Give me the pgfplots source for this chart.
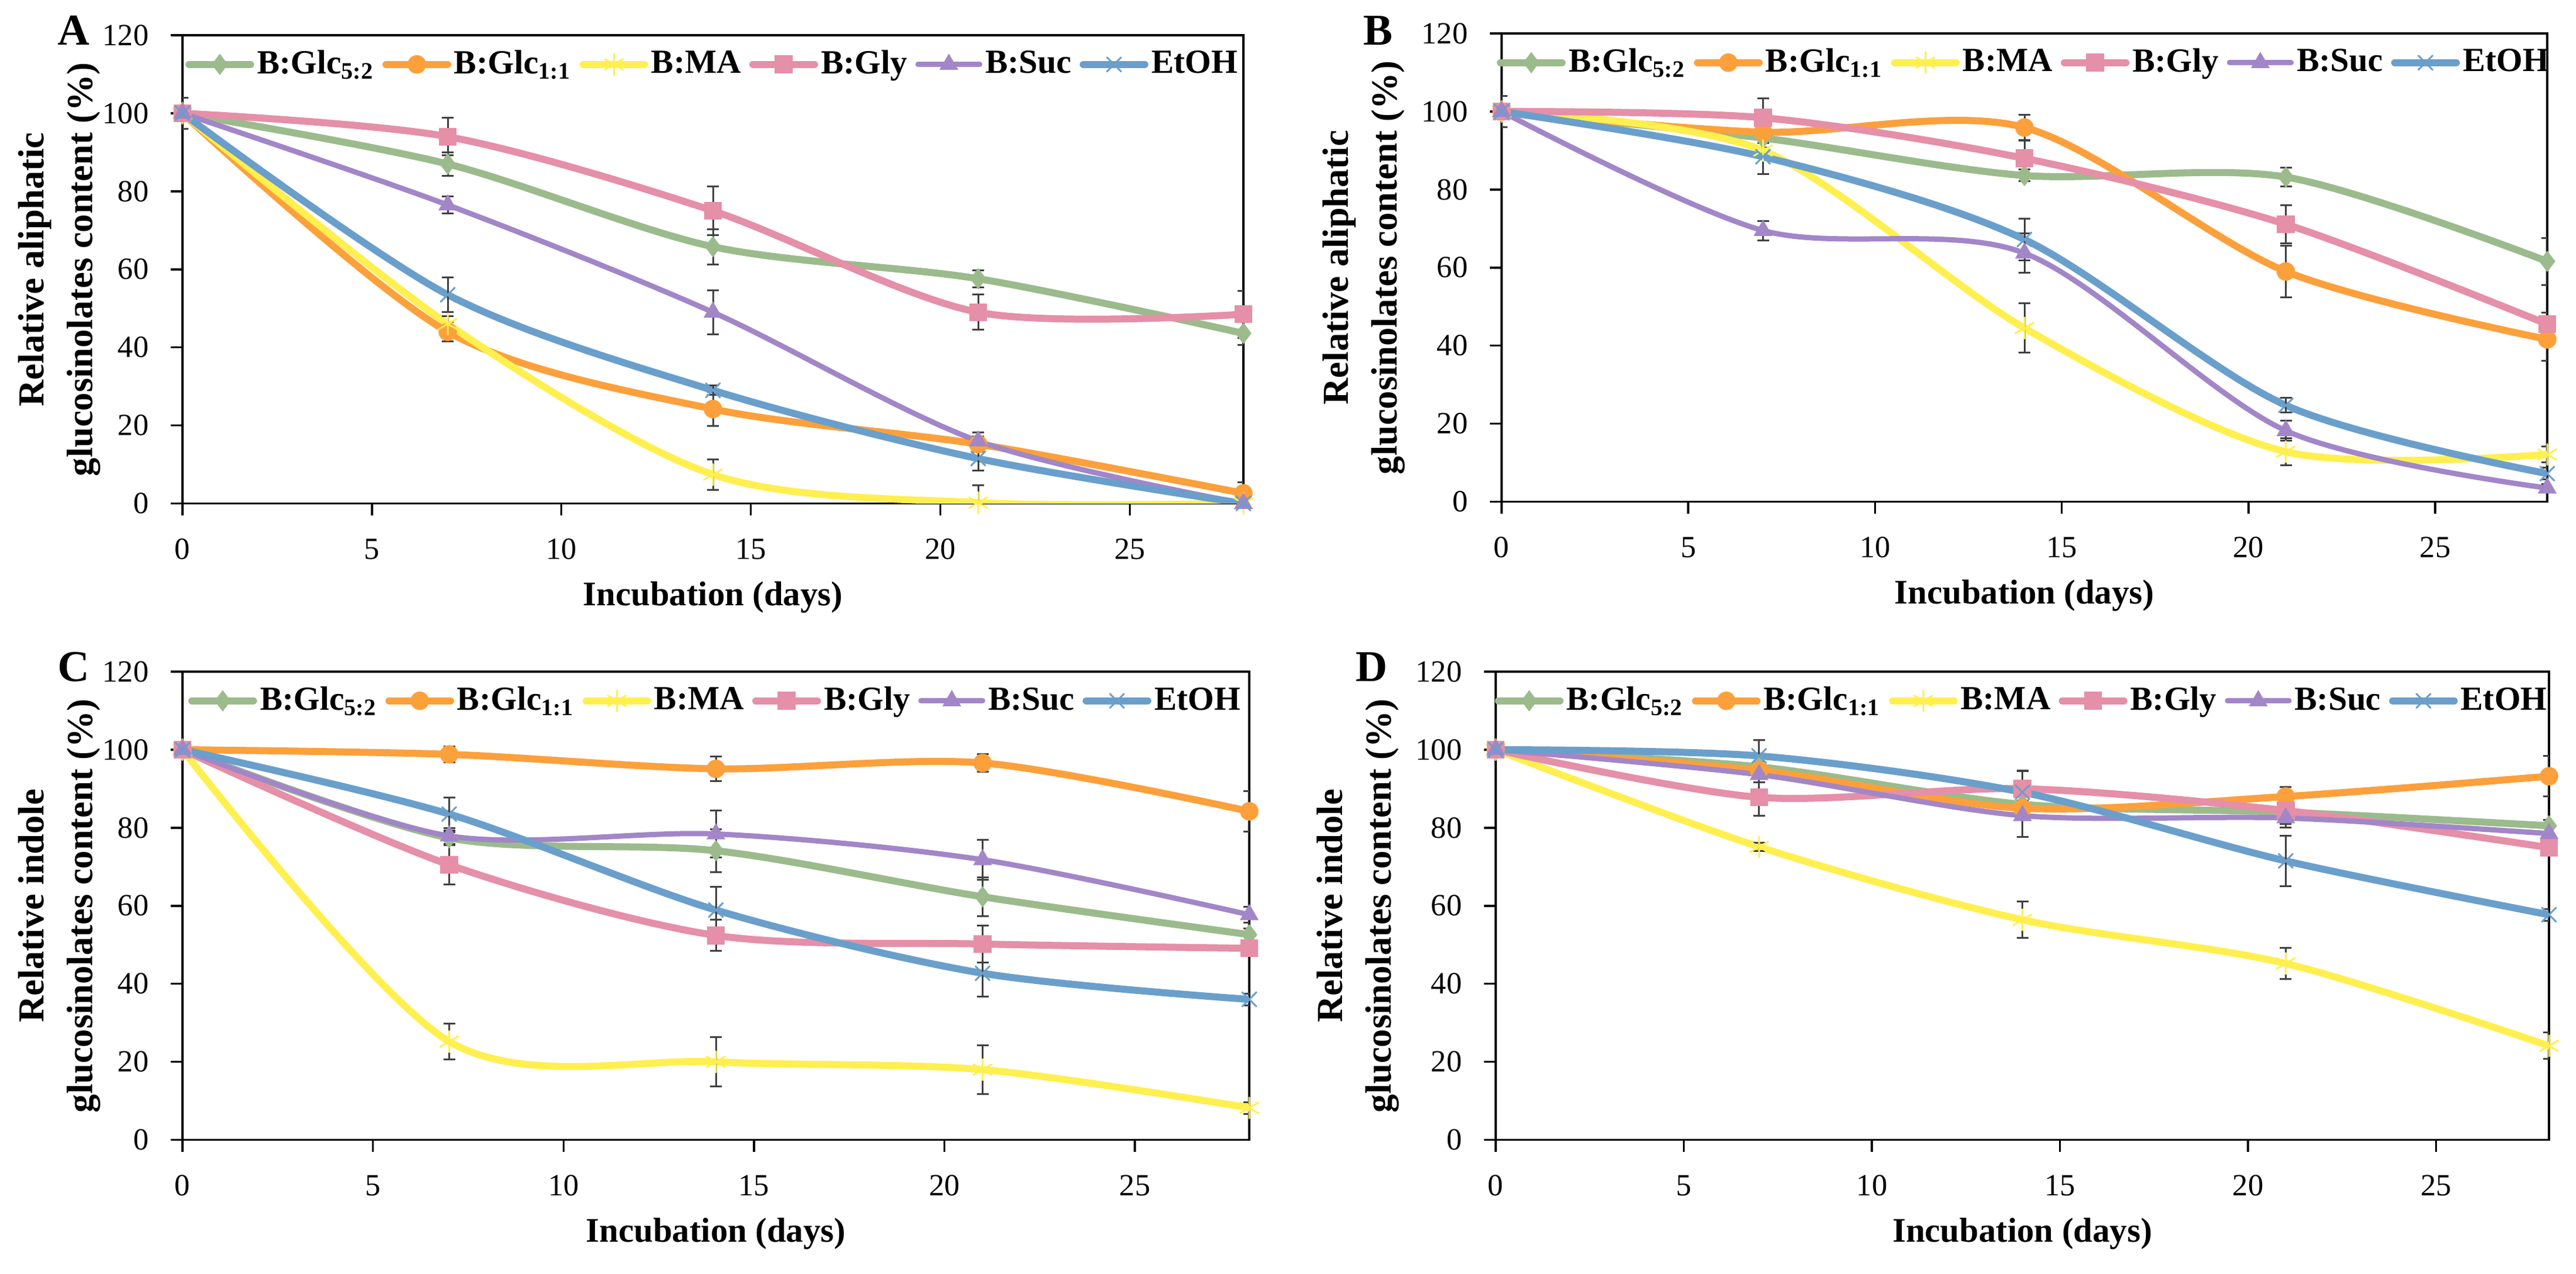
\documentclass[border=0pt]{standalone}
\usepackage{fontspec}
\setmainfont{Liberation Serif}
\usepackage{pgfplots}
\usepackage{pgfplotstable}
\pgfplotsset{compat=1.18}

\definecolor{cGa}{HTML}{9BBB8C}
\definecolor{cGb}{HTML}{FCA03C}
\definecolor{cMA}{HTML}{FFEF4F}
\definecolor{cGly}{HTML}{E58FA8}
\definecolor{cSuc}{HTML}{A286C8}
\definecolor{cEt}{HTML}{6A9FCB}
\definecolor{errc}{HTML}{404040}

% day, then value and error for each series
\pgfplotstableread{
day G52 G52e G11 G11e MA MAe Gly Glye Suc Suce Et Ete
0 100 4.0 100 1.5 100 1.5 100 1.0 100 1.5 100 1.0
7 87.0 3.0 44.0 2.5 46.0 2.0 94.0 4.8 76.5 2.2 53.5 4.5
14 65.8 4.5 24.2 4.4 7.4 3.9 75.0 6.2 49.0 5.6 29.0 1.2
21 57.6 2.2 15.2 2.0 0.2 4.5 49.0 4.5 16.0 2.2 11.5 3.0
28 43.6 3.0 2.6 2.8 0.0 0.8 48.5 6.0 0.0 0.5 0.0 0.5
}\dataA
\pgfplotstableread{
day G52 G52e G11 G11e MA MAe Gly Glye Suc Suce Et Ete
0 100 4.0 100 1.0 100 1.0 100 1.0 100 1.0 100 1.0
7 93.2 2.5 94.7 2.0 90.0 2.0 98.4 5.0 69.5 2.5 88.4 4.5
14 83.6 1.5 95.9 3.2 44.5 6.3 88.0 4.5 63.7 5.0 67.2 5.4
21 83.2 2.4 59.0 6.6 12.8 3.5 71.1 4.9 18.2 2.5 24.7 1.9
28 61.6 6.0 41.6 5.5 12.1 2.0 45.5 3.0 3.5 1.0 7.2 1.5
}\dataB
\pgfplotstableread{
day G52 G52e G11 G11e MA MAe Gly Glye Suc Suce Et Ete
0 100 1.0 100 1.0 100 1.0 100 1.0 100 1.0 100 1.0
7 77.4 1.5 98.8 2.0 25.2 4.6 70.5 5.0 77.9 2.0 83.5 4.2
14 74.1 5.5 95.1 3.2 20.0 6.3 52.4 4.0 78.4 6.0 58.9 6.0
21 62.3 5.0 96.6 2.3 18.0 6.3 50.2 4.7 71.8 5.1 42.7 6.0
28 52.6 1.5 84.2 5.2 8.2 1.5 49.1 1.5 57.7 2.0 36.0 1.5
}\dataC
\pgfplotstableread{
day G52 G52e G11 G11e MA MAe Gly Glye Suc Suce Et Ete
0 100 1.5 100 1.5 100 1.5 100 1.5 100 1.5 100 1.5
7 95.6 1.5 94.7 1.5 75.1 1.0 87.8 4.8 93.6 2.0 98.4 4.0
14 86.0 2.0 85.0 2.0 56.4 4.7 90.0 4.5 83.1 5.5 89.1 5.5
21 84.0 3.0 88.0 2.5 45.2 4.0 84.4 2.0 82.5 2.5 71.5 6.5
28 80.5 1.5 93.2 5.2 24.1 3.4 74.9 2.0 78.5 1.5 57.7 1.5
}\dataD

\pgfplotsset{
  panel/.style={
    scale only axis, height=159.5pt,
    xmin=0, xmax=28, ymin=0, ymax=120,
    xtick={0,5,...,25}, ytick={0,20,...,120},
    axis line style={line width=0.7pt, black},
    tick style={line width=0.7pt, black},
    tick align=outside, tick pos=left, major tick length=4pt,
    xticklabel shift=4.5pt, yticklabel shift=4pt,
    ticklabel style={font=\fontsize{10.5}{12}\selectfont},
    /pgf/number format/assume math mode=true,
    xlabel={Incubation (days)},
    xlabel style={font=\bfseries\fontsize{11.75}{13}\selectfont,
      at={([yshift=-32pt]axis description cs:0.5,0)}, anchor=center},
    ylabel style={font=\bfseries\fontsize{12.5}{16.5}\selectfont, align=center, anchor=center},
    legend columns=6,
    legend style={draw=none, fill=none, at={(0.5,1)}, anchor=north, yshift=-3.5pt,
      font=\bfseries\fontsize{11.5}{13}\selectfont, inner sep=0pt,
      nodes={inner xsep=1pt, inner ysep=1.5pt},
      /tikz/every even column/.append style={column sep=1.8pt}},
    legend image code/.code={\draw[mark repeat=2,mark phase=2]
      plot coordinates {(0pt,0pt) (10.5pt,0pt) (21pt,0pt)};},
    every axis plot/.append style={smooth, line cap=round},
    error bars/y dir=both, error bars/y explicit,
    error bars/error bar style={line width=0.6pt, errc, solid},
    error bars/error mark options={line width=0.6pt, errc, mark size=2pt, rotate=90},
  },
  sGa/.style={cGa, line width=2.4pt, mark=diamond*, mark size=3.4pt,
    mark options={line width=0.3pt, fill=cGa}},
  sGb/.style={cGb, line width=2.4pt, mark=*, mark size=3pt,
    mark options={line width=0.3pt, fill=cGb}},
  sMA/.style={cMA, line width=2.4pt, mark=asterisk, mark size=3.6pt,
    mark options={line width=0.6pt}},
  sGly/.style={cGly, line width=2.4pt, mark=square*, mark size=2.9pt,
    mark options={line width=0.3pt, fill=cGly}},
  sSuc/.style={cSuc, line width=1.8pt, mark=triangle*, mark size=3.4pt,
    mark options={line width=0.3pt, fill=cSuc}},
  sEt/.style={cEt, line width=2.4pt, mark=x, mark size=3.4pt,
    mark options={line width=0.6pt}},
}

\newcommand\sixplots[1]{%
  \addplot[sGa] table[x=day, y=G52, y error=G52e] {#1};
  \addlegendentry{B:Glc\textsubscript{5:2}}
  \addplot[sGb] table[x=day, y=G11, y error=G11e] {#1};
  \addlegendentry{B:Glc\textsubscript{1:1}}
  \addplot[sMA] table[x=day, y=MA, y error=MAe] {#1};
  \addlegendentry{B:MA}
  \addplot[sGly] table[x=day, y=Gly, y error=Glye] {#1};
  \addlegendentry{B:Gly}
  \addplot[sSuc] table[x=day, y=Suc, y error=Suce] {#1};
  \addlegendentry{B:Suc}
  \addplot[sEt] table[x=day, y=Et, y error=Ete] {#1};
  \addlegendentry{EtOH}
}

\begin{document}
\begin{tikzpicture}
\path[use as bounding box] (0pt,0pt) rectangle (878pt,-433.8pt);

\begin{axis}[panel, width=361.6pt, at={(62.2pt,-12pt)}, anchor=north west,
  ylabel={Relative aliphatic\\glucosinolates content (\%)},
  ylabel style={at={([xshift=-42pt]axis description cs:0,0.5)}}]
\sixplots{\dataA}
\end{axis}

\begin{axis}[panel, width=356.4pt, at={(511.8pt,-11.4pt)}, anchor=north west,
  ylabel={Relative aliphatic\\glucosinolates content (\%)},
  ylabel style={at={([xshift=-47pt]axis description cs:0,0.5)}}]
\sixplots{\dataB}
\end{axis}

\begin{axis}[panel, width=363.6pt, at={(62.2pt,-228.8pt)}, anchor=north west,
  ylabel={Relative indole\\glucosinolates content (\%)},
  ylabel style={at={([xshift=-42pt]axis description cs:0,0.5)}}]
\sixplots{\dataC}
\end{axis}

\begin{axis}[panel, width=359pt, at={(509.8pt,-228.8pt)}, anchor=north west,
  ylabel={Relative indole\\glucosinolates content (\%)},
  ylabel style={at={([xshift=-47pt]axis description cs:0,0.5)}}]
\sixplots{\dataD}
\end{axis}

\node[font=\bfseries\fontsize{15}{16}\selectfont] at (25.2pt,-10.4pt) {A};
\node[font=\bfseries\fontsize{15}{16}\selectfont] at (469.6pt,-10.4pt) {B};
\node[font=\bfseries\fontsize{15}{16}\selectfont] at (25.2pt,-227.2pt) {C};
\node[font=\bfseries\fontsize{15}{16}\selectfont] at (467.6pt,-227.2pt) {D};
\end{tikzpicture}
\end{document}
